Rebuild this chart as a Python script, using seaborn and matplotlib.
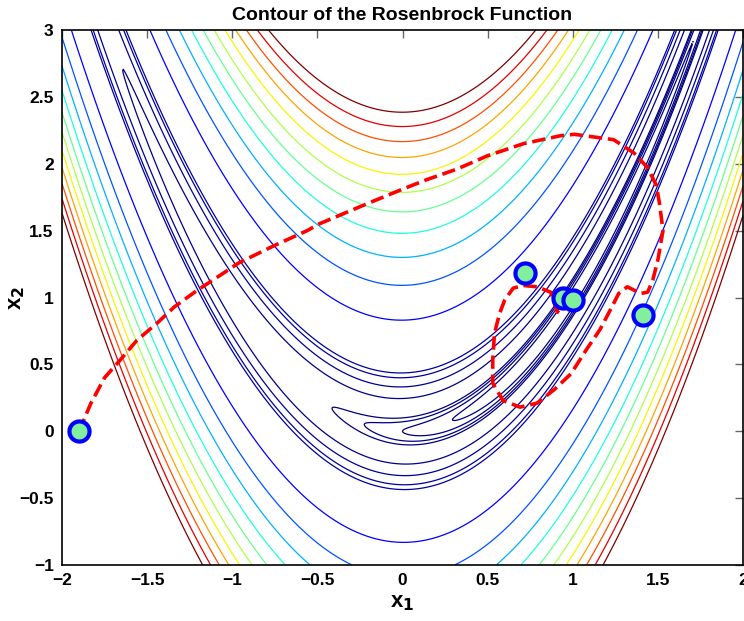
import numpy as np
import matplotlib
matplotlib.use("Agg")
import matplotlib.pyplot as plt
import seaborn as sns
from matplotlib.ticker import FuncFormatter, MultipleLocator

# contour levels of the Rosenbrock function
levels = [0.5, 1, 1.5, 2, 7, 12, 17, 20, 70, 120, 170, 220, 270, 320,
          370, 420, 470, 520, 570]

# search path (red dashed)
path_x1 = [-1.90, -1.83, -1.75, -1.66, -1.56, -1.44, -1.34, -1.21, -1.09, -0.96,
           -0.75, -0.56, -0.49, -0.21, 0.00, 0.14, 0.32, 0.50, 0.71, 0.93,
           1.01, 1.24, 1.36, 1.44, 1.49, 1.51, 1.53, 1.50, 1.47, 1.44,
           1.40, 1.32, 1.27, 1.23, 1.16, 1.08, 0.99, 0.89, 0.79, 0.69,
           0.59, 0.53, 0.53, 0.54, 0.57, 0.60, 0.65, 0.71, 0.79, 0.87,
           0.91, 0.95, 0.99]
path_x2 = [0.00, 0.21, 0.40, 0.53, 0.68, 0.81, 0.93, 1.05, 1.15, 1.26,
           1.39, 1.50, 1.55, 1.70, 1.81, 1.88, 1.96, 2.06, 2.15, 2.21,
           2.22, 2.18, 2.08, 1.97, 1.84, 1.70, 1.50, 1.28, 1.13, 1.04,
           1.03, 1.08, 1.03, 0.93, 0.76, 0.61, 0.43, 0.31, 0.21, 0.18,
           0.23, 0.36, 0.53, 0.73, 0.88, 0.98, 1.07, 1.09, 1.08, 1.04,
           0.89, 0.98, 1.00]

# marked points
pts_x1 = [-1.90, 0.72, 0.94, 1.00, 1.41]
pts_x2 = [0.00, 1.18, 1.00, 0.98, 0.87]

sns.set_style("white")
plt.rcParams["font.family"] = ["Liberation Sans", "DejaVu Sans"]
plt.rcParams["font.weight"] = "bold"
plt.rcParams["text.color"] = "black"
plt.rcParams["axes.labelcolor"] = "black"
plt.rcParams["xtick.labelcolor"] = "black"
plt.rcParams["ytick.labelcolor"] = "black"

fig = plt.figure(figsize=(7.44, 6.21), dpi=100)
ax = fig.add_axes([62 / 744, 56 / 621, 681 / 744, 535 / 621])

x = np.linspace(-2, 2, 600)
y = np.linspace(-1, 3, 600)
X, Y = np.meshgrid(x, y)
Z = (1 - X) ** 2 + 100 * (Y - X ** 2) ** 2
ax.contour(X, Y, Z, levels=levels, cmap="jet", linewidths=0.9)

sns.lineplot(x=path_x1, y=path_x2, sort=False, estimator=None, ax=ax,
             color="red", linewidth=2.6, linestyle="--", dashes=(2.4, 1.8))
sns.scatterplot(x=pts_x1, y=pts_x2, ax=ax, s=210, color="#80f09c",
                edgecolor="blue", linewidth=3.0, zorder=5)

ax.set_xlim(-2, 2)
ax.set_ylim(-1, 3)
ax.xaxis.set_major_locator(MultipleLocator(0.5))
ax.yaxis.set_major_locator(MultipleLocator(0.5))
fmt = FuncFormatter(lambda v, p: ("%g" % v).replace("-", "\u2212"))
ax.xaxis.set_major_formatter(fmt)
ax.yaxis.set_major_formatter(fmt)
ax.tick_params(direction="in", length=6, width=1, color="0.4",
               labelcolor="black", top=True, right=True, labelsize=12.5, pad=6)
for lab in ax.get_xticklabels() + ax.get_yticklabels():
    lab.set_fontweight("bold")
for s in ax.spines.values():
    s.set_color("black")
    s.set_linewidth(1.2)

ax.set_title("Contour of the Rosenbrock Function", fontsize=14,
             fontweight="bold", pad=7.5, color="black")
ax.set_xlabel("x$_\\mathbf{1}$", fontsize=16, fontweight="bold")
ax.set_ylabel("x$_\\mathbf{2}$", fontsize=16, fontweight="bold")
ax.xaxis.set_label_coords(0.5, -0.05)
ax.yaxis.set_label_coords(-0.052, 0.5)

fig.savefig("out.png", dpi=100)
